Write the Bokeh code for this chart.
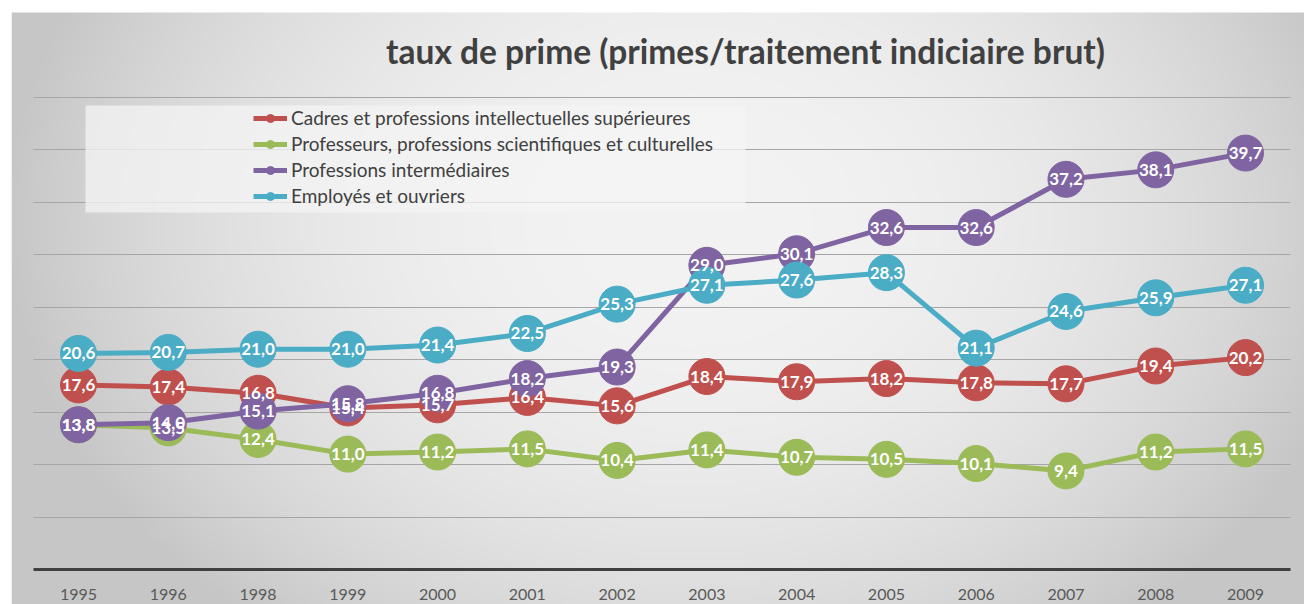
import numpy as np
from bokeh.plotting import figure
from bokeh.models import (Range1d, LinearAxis, FixedTicker, Grid, Legend, LegendItem,
                          BoxAnnotation, Label, ColumnDataSource)
from bokeh.core.properties import value
from bokeh.embed import file_html
from bokeh.resources import INLINE

# ---------------- data ----------------
years = ["1995", "1996", "1998", "1999", "2000", "2001", "2002",
         "2003", "2004", "2005", "2006", "2007", "2008", "2009"]
cadres = [17.6, 17.4, 16.8, 15.4, 15.7, 16.4, 15.6, 18.4, 17.9, 18.2, 17.8, 17.7, 19.4, 20.2]
professeurs = [13.8, 13.5, 12.4, 11.0, 11.2, 11.5, 10.4, 11.4, 10.7, 10.5, 10.1, 9.4, 11.2, 11.5]
intermediaires = [13.8, 14.0, 15.1, 15.8, 16.8, 18.2, 19.3, 29.0, 30.1, 32.6, 32.6, 37.2, 38.1, 39.7]
employes = [20.6, 20.7, 21.0, 21.0, 21.4, 22.5, 25.3, 27.1, 27.6, 28.3, 21.1, 24.6, 25.9, 27.1]
series_names = ["Cadres et professions intellectuelles supérieures",
                "Professeurs, professions scientifiques et culturelles",
                "Professions intermédiaires",
                "Employés et ouvriers"]
series_values = [cadres, professeurs, intermediaires, employes]
colors = ["#c0504d", "#9bbb59", "#8064a2", "#4bacc6"]
title_text = "taux de prime (primes/traitement indiciaire brut)"
grid_values = [5, 10, 15, 20, 25, 30, 35, 40, 45]

# ---------------- layout ----------------
W, H = 1304, 604
BL, BT = 11, 12                   # frame offset inside canvas
FW, FH = W - BL, H - BT           # frame size
X0, PX_PER_X = 78.0, 89.77        # canvas x of first category, px per category
Y0, PX_PER_Y = 569.0, 10.489      # canvas y of value 0, px per unit

XS = -(X0 - BL) / PX_PER_X
XE = XS + FW / PX_PER_X
YE = (Y0 - BT) / PX_PER_Y
YS = YE - FH / PX_PER_Y


def px2x(px):
    return (px - X0) / PX_PER_X


def py2y(py):
    return (Y0 - py) / PX_PER_Y


p = figure(width=W, height=H, x_range=Range1d(XS, XE), y_range=Range1d(YS, YE),
           x_axis_location=None, y_axis_location=None,
           output_backend="svg", toolbar_location=None,
           min_border_left=BL, min_border_top=BT, min_border_right=0, min_border_bottom=0,
           border_fill_color="white", outline_line_color=None)
p.title.visible = False
for g in p.grid:
    g.visible = False

# background radial gradient (style only)
f = 3
gh, gw = FH // f + 1, FW // f + 1
jj = np.arange(gw)
ii = np.arange(gh)
pxs = BL + (jj + 0.5) * f
pys = BT + FH - (ii + 0.5) * f
PX, PY = np.meshgrid(pxs, pys)
d = np.sqrt(((PX - 690) / 680.0) ** 2 + ((PY - 220) / 520.0) ** 2)
c = np.clip(243 - 44 * d ** 2.2, 198, 243).astype(np.uint8)
img = np.empty((gh, gw), dtype=np.uint32)
view = img.view(dtype=np.uint8).reshape((gh, gw, 4))
view[:, :, 0] = c
view[:, :, 1] = c
view[:, :, 2] = c
view[:, :, 3] = 255
p.image_rgba(image=[img], x=XS, y=YS, dw=gw * f / PX_PER_X, dh=gh * f / PX_PER_Y, level="image")

# gridlines
grid = Grid(dimension=1, ticker=FixedTicker(ticks=grid_values),
            grid_line_color="#a6a6a6", grid_line_width=1.2,
            cross_bounds=(-0.5, len(years) - 0.5))
p.add_layout(grid)

# legend background box
box = BoxAnnotation(left=px2x(85), right=px2x(745), top=py2y(105), bottom=py2y(212),
                    fill_color="#f4f4f4", fill_alpha=0.75, line_color=None, level="glyph")
p.add_layout(box)

# x axis at value 0
xa = LinearAxis(fixed_location=0,
                ticker=FixedTicker(ticks=list(range(len(years)))),
                major_label_overrides={i: y for i, y in enumerate(years)},
                bounds=(-0.5, len(years) - 0.5),
                axis_line_color="#404040", axis_line_width=3,
                major_tick_line_color=None, minor_tick_line_color=None,
                major_label_text_font="Lato", major_label_text_font_size="16px",
                major_label_text_color="#595959", major_label_standoff=13)
p.add_layout(xa, "below")

# series
items = []
xs = list(range(len(years)))
for name, vals, col in zip(series_names, series_values, colors):
    src = ColumnDataSource(dict(x=xs, y=vals))
    lr = p.line("x", "y", source=src, line_color=col, line_width=5)
    sr = p.scatter("x", "y", source=src, size=36, fill_color=col, line_color=col)
    items.append(LegendItem(label=name, renderers=[lr, sr]))

# data labels
for vals in series_values:
    lsrc = ColumnDataSource(dict(x=xs, y=vals,
                                 t=[("%.1f" % v).replace(".", ",") for v in vals]))
    p.text("x", "y", text="t", source=lsrc, text_font=value("Lato"),
           text_font_style="bold", text_font_size="17px", text_color="white",
           text_align="center", text_baseline="middle")

legend = Legend(items=items, location=(242, 397), padding=0, margin=0, spacing=3,
                glyph_width=34, glyph_height=20, label_height=20, label_standoff=4,
                label_text_font="Lato", label_text_font_size="19px",
                label_text_color="#404040",
                background_fill_alpha=0, border_line_alpha=0)
p.add_layout(legend)

# title
p.add_layout(Label(x=px2x(745), y=py2y(50), text=title_text, text_font="Lato",
                   text_font_style="bold", text_font_size="33.5px", text_color="#404040",
                   text_align="center", text_baseline="middle"))

open("out.html", "w").write(file_html(p, INLINE))
